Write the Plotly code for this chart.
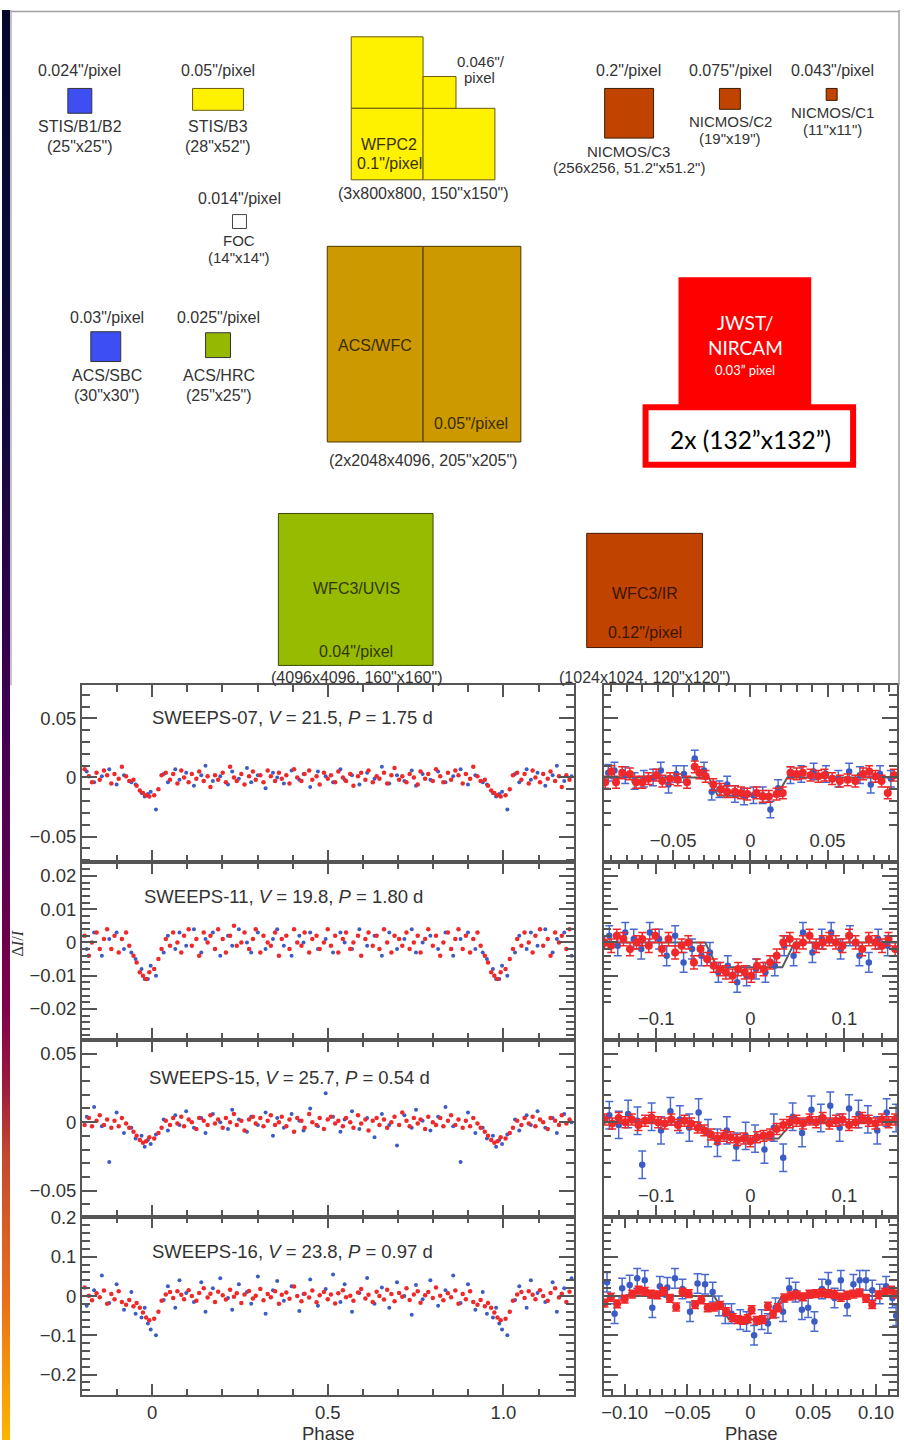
import plotly.graph_objects as go

# ---------------- DATA ----------------
RED_PHASE = [0.006, 0.018, 0.027, 0.039, 0.051, 0.060, 0.072, 0.083, 0.091, 0.104,
             0.113, 0.126, 0.134, 0.147, 0.158, 0.166, 0.179, 0.188, 0.201, 0.210,
             0.222, 0.233, 0.241, 0.254, 0.263, 0.276, 0.287, 0.295, 0.308, 0.317,
             0.329, 0.338, 0.350, 0.361, 0.369, 0.382, 0.391, 0.404, 0.413, 0.425,
             0.434, 0.447, 0.456, 0.468, 0.477, 0.489, 0.500, 0.509, 0.521, 0.530,
             0.543, 0.552, 0.564, 0.573, 0.586, 0.595, 0.607, 0.616, 0.628, 0.639,
             0.647, 0.660, 0.669, 0.681, 0.690, 0.703, 0.712, 0.724, 0.733, 0.745,
             0.756, 0.764, 0.777, 0.786, 0.799, 0.808, 0.820, 0.829, 0.842, 0.851,
             0.863, 0.872, 0.884, 0.893, 0.905, 0.914, 0.926, 0.935, 0.947, 0.956,
             0.965, 0.974, 0.983, 0.992]
BLUE_PHASE = [0.011, 0.033, 0.045, 0.066, 0.078, 0.097, 0.119, 0.140, 0.152, 0.173,
              0.194, 0.216, 0.228, 0.247, 0.270, 0.282, 0.301, 0.323, 0.344, 0.356,
              0.375, 0.397, 0.419, 0.431, 0.450, 0.472, 0.494, 0.515, 0.536, 0.548,
              0.569, 0.590, 0.612, 0.633, 0.654, 0.675, 0.697, 0.718, 0.739, 0.751,
              0.770, 0.792, 0.814, 0.835, 0.857, 0.878, 0.899, 0.920, 0.941, 0.953,
              0.970, 0.979, 0.988, 0.996]

P1_RED = [-0.015, -0.010, 0.002, 0.004, -0.002, 0.003, -0.005, 0.006, 0.000, -0.004,
          0.003, -0.001, 0.005, -0.003, 0.001, -0.008, 0.002, -0.002, 0.004, -0.004,
          0.009, 0.000, -0.003, 0.003, -0.006, 0.001, 0.005, -0.002, 0.002, -0.004,
          0.006, 0.001, -0.003, 0.004, -0.001, 0.002, -0.005, 0.007, 0.000, -0.003,
          0.003, 0.006, -0.002, 0.001, -0.006, 0.004, -0.001, 0.002, -0.004, 0.005,
          0.000, -0.003, 0.003, -0.007, 0.001, 0.004, -0.002, 0.006, -0.004, 0.001,
          -0.001, 0.004, -0.005, 0.002, 0.008, -0.002, 0.001, -0.004, 0.003, 0.000,
          -0.006, 0.005, -0.001, 0.003, -0.003, 0.007, 0.001, -0.004, 0.004, -0.002,
          0.006, 0.002, -0.005, 0.003, -0.001, 0.009, 0.001, -0.003, -0.002, -0.007,
          -0.011, -0.013, -0.015, -0.016]
P1_BLUE = [-0.027, 0.003, -0.004, 0.007, -0.002, 0.004, -0.007, 0.002, 0.010, -0.003,
           0.001, -0.006, 0.005, -0.001, 0.008, -0.004, 0.002, -0.009, 0.004, 0.000,
           -0.005, 0.006, -0.002, 0.003, -0.008, 0.005, 0.001, -0.004, 0.007, -0.002,
           0.002, -0.006, 0.004, -0.001, 0.009, -0.005, 0.002, -0.003, 0.006, -0.007,
           0.003, -0.002, 0.005, -0.004, 0.001, 0.007, -0.006, 0.002, -0.004, -0.006,
           -0.013, -0.016, -0.014, -0.012]

P2_RED = [-0.008, -0.005, -0.002, 0.001, -0.001, 0.003, 0.000, -0.003, 0.002, 0.004,
          -0.001, 0.001, -0.004, 0.003, 0.000, 0.002, -0.002, 0.004, 0.001, -0.003,
          0.002, 0.005, -0.001, 0.000, 0.003, -0.002, 0.001, 0.004, -0.003, 0.002,
          0.000, -0.001, 0.003, -0.004, 0.001, 0.002, -0.002, 0.004, 0.000, -0.001,
          0.003, -0.003, 0.001, 0.002, -0.002, 0.000, 0.004, -0.001, 0.002, -0.003,
          0.001, 0.003, -0.002, 0.000, 0.002, -0.004, 0.001, 0.003, -0.001, 0.002,
          -0.002, 0.004, 0.000, -0.003, 0.002, 0.001, -0.001, 0.003, -0.002, 0.000,
          0.002, -0.003, 0.001, 0.004, -0.001, 0.002, -0.004, 0.000, 0.003, -0.002,
          0.001, 0.004, -0.002, 0.002, -0.003, 0.001, 0.003, -0.001, -0.004, -0.006,
          -0.009, -0.010, -0.011, -0.009]
P2_BLUE = [-0.010, -0.003, 0.002, -0.002, 0.003, -0.001, 0.004, -0.003, 0.001, 0.003,
           -0.004, 0.002, -0.001, 0.004, 0.000, -0.003, 0.003, -0.002, 0.001, 0.004,
           -0.001, -0.004, 0.002, 0.000, 0.003, -0.002, 0.001, -0.003, 0.003, 0.000,
           -0.002, 0.004, -0.001, 0.002, -0.004, 0.003, -0.002, 0.001, 0.004, -0.003,
           0.000, 0.002, -0.002, 0.003, -0.004, 0.001, 0.003, -0.002, -0.003, -0.005,
           -0.008, -0.011, -0.011, -0.007]

P3_RED = [-0.012, -0.008, -0.004, 0.001, -0.002, 0.003, -0.001, 0.004, -0.003, 0.002,
          0.000, -0.005, 0.003, 0.001, -0.002, 0.005, -0.001, 0.002, -0.004, 0.003,
          0.000, 0.006, -0.002, 0.001, -0.006, 0.002, 0.004, -0.001, 0.003, -0.003,
          0.001, 0.005, -0.002, 0.000, 0.004, -0.003, 0.002, -0.007, 0.003, 0.001,
          -0.004, 0.006, 0.000, -0.002, 0.003, -0.005, 0.002, 0.004, -0.001, 0.001,
          -0.003, 0.003, 0.000, -0.004, 0.005, -0.001, 0.002, -0.006, 0.001, 0.003,
          -0.002, 0.002, -0.004, 0.000, 0.004, -0.002, 0.007, 0.001, -0.003, 0.003,
          -0.001, 0.002, -0.005, 0.004, 0.000, -0.002, 0.003, -0.003, 0.001, 0.005,
          -0.002, 0.002, -0.004, 0.001, -0.003, 0.003, -0.001, -0.004, -0.007, -0.010,
          -0.013, -0.015, -0.014, -0.011]
P3_BLUE = [-0.009, 0.002, -0.006, 0.005, -0.002, 0.008, -0.004, 0.003, -0.008, 0.006,
           0.000, -0.005, 0.009, 0.002, -0.007, 0.004, -0.002, 0.007, -0.010, 0.003,
           -0.004, 0.006, 0.001, -0.006, 0.010, -0.003, 0.021, 0.004, -0.007, 0.002,
           0.008, -0.005, 0.003, -0.011, 0.006, -0.002, -0.017, 0.005, -0.004, 0.009,
           0.001, -0.006, 0.004, 0.011, -0.003, -0.029, 0.007, -0.008, -0.004, -0.012,
           -0.010, -0.018, -0.013, -0.016]

P4_RED = [-0.058, -0.040, -0.012, 0.004, 0.010, -0.005, 0.012, 0.003, -0.008, 0.015,
          0.000, -0.012, 0.008, 0.020, -0.004, 0.006, -0.015, 0.011, 0.002, -0.009,
          0.016, -0.002, 0.007, -0.018, 0.004, 0.013, -0.006, 0.001, 0.018, -0.011,
          0.005, -0.003, 0.012, -0.020, 0.003, 0.009, -0.007, 0.024, 0.000, -0.013,
          0.006, -0.004, 0.014, -0.016, 0.002, 0.010, -0.008, 0.004, -0.019, 0.007,
          0.015, -0.003, 0.001, -0.012, 0.009, 0.018, -0.006, 0.003, -0.015, 0.011,
          0.000, -0.009, 0.016, 0.005, -0.013, 0.008, -0.002, 0.020, -0.010, 0.004,
          0.012, -0.017, 0.002, 0.010, -0.005, 0.022, 0.001, -0.011, 0.007, -0.003,
          0.014, -0.020, 0.005, -0.008, 0.012, -0.015, -0.022, -0.010, -0.026, -0.018,
          -0.030, -0.042, -0.055, -0.062]
P4_BLUE = [-0.100, -0.010, 0.025, -0.030, 0.040, 0.008, -0.015, 0.035, -0.040, 0.020,
           0.045, -0.005, -0.035, 0.030, 0.010, -0.020, 0.050, -0.045, 0.015, 0.038,
           -0.012, 0.025, -0.038, 0.005, 0.042, -0.025, 0.018, 0.055, -0.015, 0.030,
           -0.040, 0.008, 0.046, -0.020, 0.022, -0.030, 0.035, 0.000, -0.048, 0.028,
           -0.008, 0.040, -0.025, 0.015, 0.052, -0.018, 0.030, -0.035, 0.010, -0.045,
           -0.055, -0.030, -0.070, -0.085]

# zoomed transit panels (phase, flux), constant error per series
R1_RED_X = [-0.094, -0.090, -0.087, -0.083, -0.078, -0.074, -0.070, -0.066, -0.061, -0.057, -0.052, -0.047, -0.041, -0.036, -0.033, -0.029, -0.024, -0.019, -0.015, -0.010, -0.006, -0.002, 0.004, 0.008, 0.012, 0.017, 0.021, 0.026, 0.030, 0.034, 0.039, 0.044, 0.048, 0.053, 0.058, 0.063, 0.068, 0.073, 0.077, 0.081, 0.085, 0.089, 0.093]
R1_RED_Y = [-0.004, 0.005, -0.004, 0.004, 0.003, -0.004, -0.004, -0.001, 0.002, -0.003, -0.001, -0.002, -0.004, 0.009, 0.004, 0.001, -0.006, -0.010, -0.012, -0.012, -0.013, -0.014, -0.013, -0.016, -0.016, -0.014, -0.013, 0.004, 0.003, 0.004, 0.002, 0.001, 0.002, -0.001, -0.003, -0.002, -0.003, 0.003, 0.005, 0.001, -0.003, -0.013, 0.002]
R1_BLUE_X = [-0.092, -0.088, -0.081, -0.075, -0.069, -0.063, -0.058, -0.053, -0.048, -0.043, -0.036, -0.030, -0.025, -0.020, -0.015, -0.010, -0.004, 0.002, 0.008, 0.013, 0.018, 0.026, 0.033, 0.041, 0.049, 0.057, 0.064, 0.071, 0.078, 0.084, 0.091]
R1_BLUE_Y = [0.004, 0.006, 0.002, -0.003, -0.001, 0.000, 0.006, -0.006, 0.003, 0.003, 0.016, 0.006, -0.012, -0.010, -0.006, -0.014, -0.016, -0.015, -0.015, -0.027, -0.009, 0.002, 0.003, 0.005, 0.003, -0.001, 0.005, 0.002, -0.006, 0.003, -0.001]
R1_RED_ERR, R1_BLUE_ERR = 0.005, 0.007
R1_MODEL_X = [-0.095, -0.027, -0.021, 0.017, 0.024, 0.095]
R1_MODEL_Y = [0.0, 0.0, -0.0155, -0.0155, 0.0, 0.0]

R2_RED_X = [-0.155, -0.148, -0.142, -0.135, -0.128, -0.121, -0.115, -0.108, -0.101, -0.094, -0.087, -0.080, -0.073, -0.066, -0.060, -0.053, -0.046, -0.039, -0.032, -0.026, -0.019, -0.013, -0.006, 0.001, 0.007, 0.014, 0.021, 0.028, 0.035, 0.042, 0.049, 0.056, 0.063, 0.070, 0.077, 0.084, 0.091, 0.098, 0.105, 0.112, 0.119, 0.126, 0.133, 0.140, 0.147, 0.154]
R2_RED_Y = [0.000, -0.001, 0.002, 0.001, -0.002, 0.000, 0.001, -0.001, 0.002, -0.002, 0.001, -0.003, -0.001, 0.000, -0.006, -0.002, -0.005, -0.007, -0.008, -0.009, -0.010, -0.008, -0.009, -0.010, -0.007, -0.008, -0.006, -0.004, 0.000, 0.001, -0.001, 0.000, 0.002, -0.001, 0.000, 0.001, 0.000, -0.001, 0.002, 0.000, -0.002, 0.001, 0.000, -0.001, 0.001, -0.002]
R2_BLUE_X = [-0.150, -0.141, -0.133, -0.124, -0.116, -0.107, -0.097, -0.089, -0.080, -0.071, -0.062, -0.052, -0.043, -0.034, -0.024, -0.014, -0.004, 0.006, 0.016, 0.026, 0.036, 0.046, 0.056, 0.066, 0.076, 0.086, 0.096, 0.106, 0.116, 0.126, 0.136, 0.146]
R2_BLUE_Y = [0.002, -0.001, 0.003, 0.001, -0.002, 0.003, 0.001, -0.004, 0.002, -0.006, -0.002, -0.004, -0.003, -0.009, -0.007, -0.012, -0.010, -0.008, -0.009, -0.007, -0.001, -0.004, 0.003, -0.003, 0.001, 0.003, -0.002, 0.002, -0.004, -0.006, 0.001, -0.001]
R2_RED_ERR, R2_BLUE_ERR = 0.002, 0.003
R2_MODEL_X = [-0.156, -0.048, -0.035, 0.034, 0.047, 0.156]
R2_MODEL_Y = [0.0, 0.0, -0.0075, -0.0075, 0.0, 0.0]

R3_RED_X = [-0.155, -0.147, -0.140, -0.133, -0.126, -0.119, -0.112, -0.105, -0.098, -0.091, -0.084, -0.077, -0.070, -0.063, -0.056, -0.049, -0.042, -0.035, -0.028, -0.021, -0.014, -0.007, 0.000, 0.007, 0.014, 0.021, 0.028, 0.035, 0.042, 0.049, 0.056, 0.063, 0.070, 0.077, 0.084, 0.091, 0.098, 0.105, 0.112, 0.119, 0.126, 0.133, 0.140, 0.147, 0.154]
R3_RED_Y = [0.002, -0.001, 0.003, 0.000, 0.002, -0.002, 0.001, 0.003, 0.000, -0.001, 0.002, -0.002, 0.001, -0.001, -0.004, -0.006, -0.009, -0.012, -0.010, -0.011, -0.013, -0.012, -0.014, -0.011, -0.010, -0.009, -0.005, -0.002, 0.000, 0.001, -0.001, 0.002, 0.000, 0.003, -0.001, 0.001, 0.002, -0.002, 0.000, 0.003, 0.001, -0.001, 0.002, 0.000, 0.002]
R3_BLUE_X = [-0.150, -0.140, -0.130, -0.120, -0.115, -0.105, -0.095, -0.085, -0.075, -0.065, -0.055, -0.045, -0.035, -0.025, -0.015, -0.005, 0.005, 0.015, 0.025, 0.035, 0.045, 0.055, 0.065, 0.075, 0.085, 0.095, 0.105, 0.115, 0.125, 0.135, 0.145, 0.155]
R3_BLUE_Y = [0.005, -0.002, 0.006, 0.001, -0.031, 0.004, -0.006, 0.008, 0.002, -0.004, 0.007, -0.008, -0.015, -0.006, -0.018, -0.010, -0.012, -0.020, -0.004, -0.026, 0.004, -0.008, 0.009, 0.003, 0.012, -0.004, 0.010, 0.006, 0.002, -0.006, 0.007, 0.003]
R3_RED_ERR, R3_BLUE_ERR = 0.004, 0.010
R3_MODEL_X = [-0.156, -0.055, -0.040, 0.030, 0.045, 0.156]
R3_MODEL_Y = [0.0, 0.0, -0.012, -0.012, 0.0, 0.0]

R4_RED_X = [-0.116, -0.111, -0.106, -0.100, -0.094, -0.089, -0.084, -0.079, -0.074, -0.069, -0.064, -0.059, -0.054, -0.049, -0.044, -0.039, -0.034, -0.029, -0.024, -0.019, -0.014, -0.010, -0.006, -0.002, 0.001, 0.005, 0.010, 0.014, 0.018, 0.022, 0.027, 0.032, 0.037, 0.042, 0.047, 0.052, 0.057, 0.062, 0.067, 0.072, 0.077, 0.082, 0.087, 0.092, 0.097, 0.102, 0.107, 0.112, 0.116]
R4_RED_Y = [-0.018, -0.003, -0.020, -0.008, 0.005, 0.015, 0.012, 0.005, 0.003, 0.012, -0.006, -0.028, 0.010, 0.006, -0.022, -0.010, -0.030, -0.028, -0.024, -0.040, -0.055, -0.060, -0.062, -0.058, -0.035, -0.062, -0.060, -0.026, -0.046, -0.030, -0.005, 0.000, 0.003, -0.002, 0.005, 0.006, 0.008, 0.006, 0.004, -0.003, 0.002, 0.005, 0.008, -0.006, -0.022, 0.003, 0.010, 0.015, 0.005]
R4_BLUE_X = [-0.114, -0.108, -0.102, -0.096, -0.090, -0.084, -0.078, -0.072, -0.066, -0.060, -0.054, -0.048, -0.042, -0.036, -0.030, -0.025, -0.020, -0.015, -0.008, -0.003, 0.003, 0.009, 0.014, 0.020, 0.026, 0.031, 0.036, 0.041, 0.046, 0.051, 0.057, 0.062, 0.067, 0.072, 0.077, 0.082, 0.087, 0.092, 0.097, 0.103, 0.108, 0.113, 0.116]
R4_BLUE_Y = [0.035, -0.045, 0.020, 0.028, 0.045, 0.040, -0.030, 0.025, 0.022, 0.045, 0.018, -0.040, 0.032, 0.030, 0.010, -0.025, -0.045, -0.045, -0.060, -0.065, -0.100, -0.060, -0.070, -0.030, -0.040, 0.020, 0.010, -0.035, -0.030, -0.065, 0.018, 0.035, -0.005, 0.040, -0.025, 0.030, 0.040, 0.040, 0.015, 0.005, 0.025, -0.005, -0.050]
R4_RED_ERR, R4_BLUE_ERR = 0.010, 0.025
R4_MODEL_X = [-0.117, -0.029, -0.017, 0.015, 0.025, 0.117]
R4_MODEL_Y = [0.0, 0.0, -0.060, -0.060, 0.0, 0.0]

PANEL_LABELS = ["SWEEPS-07, <i>V</i> = 21.5, <i>P</i> = 1.75 d",
                "SWEEPS-11, <i>V</i> = 19.8, <i>P</i> = 1.80 d",
                "SWEEPS-15, <i>V</i> = 25.7, <i>P</i> = 0.54 d",
                "SWEEPS-16, <i>V</i> = 23.8, <i>P</i> = 0.97 d"]

# ---------------- LAYOUT HELPERS ----------------
W, H = 904, 1440
SANS = "Liberation Sans, Arial, Helvetica, sans-serif"
TXT = "#333333"
AX = "#555555"
RED = "#f0282a"
BLUE = "#3b5cc4"
DFS = 16  # diagram font size


def px(x):
    return x / W


def py(y):
    return 1 - y / H


fig = go.Figure()


def fold(ph, fl):
    xs, ys = [], []
    for p, f in zip(ph, fl):
        xs.append(p); ys.append(f)
        if p >= 0.8:
            xs.append(p - 1); ys.append(f)
        if p <= 0.2:
            xs.append(p + 1); ys.append(f)
    return xs, ys


LEFT = [(P1_RED, P1_BLUE), (P2_RED, P2_BLUE), (P3_RED, P3_BLUE), (P4_RED, P4_BLUE)]
RIGHT = [
    (R1_RED_X, R1_RED_Y, R1_RED_ERR, R1_BLUE_X, R1_BLUE_Y, R1_BLUE_ERR, R1_MODEL_X, R1_MODEL_Y),
    (R2_RED_X, R2_RED_Y, R2_RED_ERR, R2_BLUE_X, R2_BLUE_Y, R2_BLUE_ERR, R2_MODEL_X, R2_MODEL_Y),
    (R3_RED_X, R3_RED_Y, R3_RED_ERR, R3_BLUE_X, R3_BLUE_Y, R3_BLUE_ERR, R3_MODEL_X, R3_MODEL_Y),
    (R4_RED_X, R4_RED_Y, R4_RED_ERR, R4_BLUE_X, R4_BLUE_Y, R4_BLUE_ERR, R4_MODEL_X, R4_MODEL_Y),
]

ROWS_PX = [(680, 858), (858, 1037), (1037, 1215), (1215, 1395)]
Y_RANGES = [[-0.0715, 0.078], [-0.0293, 0.0242], [-0.0688, 0.060], [-0.253, 0.2025]]
Y_TICKS = [[-0.05, 0, 0.05], [-0.02, -0.01, 0, 0.01, 0.02], [-0.05, 0, 0.05], [-0.2, -0.1, 0, 0.1, 0.2]]
Y_MINOR = [0.01, 0.002, 0.01, 0.02]
RX_RANGES = [[-0.095, 0.095], [-0.156, 0.156], [-0.156, 0.156], [-0.1167, 0.1167]]
RX_TICKS = [[-0.05, 0, 0.05], [-0.1, 0, 0.1], [-0.1, 0, 0.1], [-0.10, -0.05, 0, 0.05, 0.10]]
RX_TEXT = [["−0.05", "0", "0.05"], ["−0.1", "0", "0.1"], ["−0.1", "0", "0.1"], ["−0.10", "−0.05", "0", "0.05", "0.10"]]
RX_MINOR = [0.01, 0.02, 0.02, 0.01]

base = dict(showline=True, linecolor=AX, linewidth=1.5, mirror="allticks", ticks="inside",
            tickcolor=AX, tickwidth=1.5, showgrid=False, zeroline=False,
            tickfont=dict(family=SANS, size=18.5, color=TXT))

for i in range(4):
    li, ri = 2 * i + 1, 2 * i + 2
    lx = "x" if li == 1 else f"x{li}"
    ly = "y" if li == 1 else f"y{li}"
    rx, ry = f"x{ri}", f"y{ri}"
    top, bot = ROWS_PX[i]
    ydom = [py(bot), py(top)]

    red, blue = LEFT[i]
    bx, by = fold(BLUE_PHASE, blue)
    rxs, rys = fold(RED_PHASE, red)
    fig.add_trace(go.Scatter(x=bx, y=by, mode="markers", xaxis=lx, yaxis=ly,
                             marker=dict(color=BLUE, size=4), showlegend=False, cliponaxis=True))
    fig.add_trace(go.Scatter(x=rxs, y=rys, mode="markers", xaxis=lx, yaxis=ly,
                             marker=dict(color=RED, size=4.5), showlegend=False, cliponaxis=True))

    rrx, rry, rerr, rbx, rby, berr, mx, my = RIGHT[i]
    fig.add_trace(go.Scatter(x=mx, y=my, mode="lines", xaxis=rx, yaxis=ry,
                             line=dict(color="#5a5a5a", width=2), showlegend=False))
    fig.add_trace(go.Scatter(x=rbx, y=rby, mode="markers", xaxis=rx, yaxis=ry,
                             marker=dict(color=BLUE, size=6.5),
                             error_y=dict(type="constant", value=berr, color="#4a6ad0", thickness=1.5, width=4),
                             showlegend=False))
    fig.add_trace(go.Scatter(x=rrx, y=rry, mode="markers", xaxis=rx, yaxis=ry,
                             marker=dict(color=RED, size=8),
                             error_y=dict(type="constant", value=rerr, color=RED, thickness=1.5, width=4),
                             showlegend=False))

    lxa = dict(base, domain=[px(80), px(573)], range=[-0.2, 1.2], anchor=ly,
               tickmode="array", tickvals=[0, 0.5, 1.0], ticktext=["0", "0.5", "1.0"], ticklen=12,
               showticklabels=(i == 3),
               minor=dict(tickmode="linear", tick0=0, dtick=0.1, ticklen=7, ticks="inside",
                          tickcolor=AX, tickwidth=1.5))
    lya = dict(base, domain=ydom, range=Y_RANGES[i], anchor=lx, tickmode="array",
               tickvals=Y_TICKS[i], ticklen=15,
               minor=dict(tickmode="linear", tick0=0, dtick=Y_MINOR[i], ticklen=8, ticks="inside",
                          tickcolor=AX, tickwidth=1.5))
    rxa = dict(base, domain=[px(603), px(897)], range=RX_RANGES[i], anchor=ry,
               tickmode="array", tickvals=RX_TICKS[i], ticktext=RX_TEXT[i], ticklen=12,
               ticklabelposition=("outside" if i == 3 else "inside"),
               minor=dict(tickmode="linear", tick0=0, dtick=RX_MINOR[i], ticklen=7, ticks="inside",
                          tickcolor=AX, tickwidth=1.5))
    rya = dict(base, domain=ydom, range=Y_RANGES[i], anchor=rx, tickmode="array",
               tickvals=Y_TICKS[i], ticklen=15, showticklabels=False,
               minor=dict(tickmode="linear", tick0=0, dtick=Y_MINOR[i], ticklen=8, ticks="inside",
                          tickcolor=AX, tickwidth=1.5))
    fig.layout["xaxis" if li == 1 else f"xaxis{li}"] = lxa
    fig.layout["yaxis" if li == 1 else f"yaxis{li}"] = lya
    fig.layout[f"xaxis{ri}"] = rxa
    fig.layout[f"yaxis{ri}"] = rya

# ---- left gradient strip ----
STRIP_Y = [0, 250, 450, 680, 870, 1000, 1080, 1150, 1210, 1300, 1380, 1440]
STRIP_C = ["#07072c", "#0a0a36", "#160840", "#3a0050", "#5c0050", "#80004a",
           "#9a1a40", "#c04830", "#d25a26", "#e8701a", "#f59a08", "#fbb600"]
fig.add_trace(go.Heatmap(x=[0, 1], y=STRIP_Y, z=[[v, v] for v in STRIP_Y], zmin=0, zmax=1440,
                         colorscale=[[v / 1440, c] for v, c in zip(STRIP_Y, STRIP_C)],
                         zsmooth="best", showscale=False, xaxis="x9", yaxis="y9", hoverinfo="skip"))
fig.layout["xaxis9"] = dict(domain=[0, px(8)], range=[-0.5, 1.5], visible=False)
fig.layout["yaxis9"] = dict(domain=[0, 1], range=[1440, 0], visible=False, anchor="x9")


# ---------------- DIAGRAM ----------------
def rect(x0, y0, x1, y1, fill, line, lw=1.0):
    fig.add_shape(type="rect", xref="paper", yref="paper", x0=px(x0), x1=px(x1),
                  y0=py(y1), y1=py(y0), fillcolor=fill, line=dict(color=line, width=lw))


def hline(x0, x1, y, color, w):
    fig.add_shape(type="line", xref="paper", yref="paper", x0=px(x0), x1=px(x1), y0=py(y), y1=py(y),
                  line=dict(color=color, width=w))


def vline(x, y0, y1, color, w):
    fig.add_shape(type="line", xref="paper", yref="paper", x0=px(x), x1=px(x), y0=py(y0), y1=py(y1),
                  line=dict(color=color, width=w))


def txt(s, x, y, size=DFS, color=TXT, family=SANS, **kw):
    fig.add_annotation(text=s, x=px(x), y=py(y), xref="paper", yref="paper", showarrow=False,
                       xanchor="center", yanchor="middle", borderpad=0,
                       font=dict(size=size, color=color, family=family), **kw)


hline(8.5, 899, 1.5, "#a0a0a0", 1.5)
vline(899, 0, 680, "#a0a0a0", 1.5)
vline(9, 0, 680, "#b0b0b0", 1.5)

YEL, YEL_L = "#fff200", "#6b5a10"
rect(66, 79, 90, 104, "#3d4ef2", "#333333")
rect(191, 79, 242, 101, YEL, YEL_L)
rect(231, 206, 245, 220, "#ffffff", "#444444")
rect(89, 324, 119, 354, "#3d4ef2", "#333333")
rect(204, 325, 229, 350, "#95b800", "#333333")
rect(350, 27, 422, 99, YEL, YEL_L)
rect(350, 99, 422, 171, YEL, YEL_L)
rect(422, 99, 494, 171, YEL, YEL_L)
rect(422, 67, 455, 99, YEL, YEL_L)
rect(326, 238, 422, 435, "#cc9900", "#4a3800")
rect(422, 238, 520, 435, "#cc9900", "#4a3800")
rect(604, 79, 653, 129, "#c04400", "#3a1a00")
rect(719, 79, 740, 100, "#c04400", "#3a1a00")
rect(826, 79, 837, 91, "#c04400", "#3a1a00")
rect(277, 507, 432, 660, "#97bb00", "#3a4a00")
rect(586, 527, 702, 642, "#c04400", "#4a1a00")
rect(678, 269, 811, 400, "#fe0000", "#fe0000", 0)
rect(645, 400, 853, 458, "#ffffff", "#fe0000", 6)

SFS = 15  # tightly stacked lines
txt('0.024"/pixel', 78, 61); txt("STIS/B1/B2", 78, 117); txt('(25"x25")', 78, 137)
txt('0.05"/pixel', 216, 61); txt("STIS/B3", 216, 117); txt('(28"x52")', 216, 137)
txt('0.014"/pixel', 238, 190); txt("FOC", 238, 232, size=SFS); txt('(14"x14")', 238, 249, size=SFS)
txt('0.03"/pixel', 105, 310); txt("ACS/SBC", 105, 368); txt('(30"x30")', 105, 388)
txt('0.025"/pixel', 217, 310); txt("ACS/HRC", 217, 368); txt('(25"x25")', 217, 388)
txt('0.046"/', 480, 52, size=SFS); txt("pixel", 479, 68, size=SFS)
txt("WFPC2", 388, 135, color="#3a3000"); txt('0.1"/pixel', 388, 155, color="#3a3000")
txt('(3x800x800, 150"x150")', 422, 185)
txt('0.2"/pixel', 628, 61); txt("NICMOS/C3", 628, 142, size=SFS); txt('(256x256, 51.2"x51.2")', 628, 159, size=SFS)
txt('0.075"/pixel', 730, 61); txt("NICMOS/C2", 730, 112, size=SFS); txt('(19"x19")', 730, 129, size=SFS)
txt('0.043"/pixel', 832, 61); txt("NICMOS/C1", 832, 103, size=SFS); txt('(11"x11")', 832, 120, size=SFS)
txt("ACS/WFC", 374, 338, color="#3a2c00"); txt('0.05"/pixel', 470, 416, color="#3a2c00")
txt('(2x2048x4096, 205"x205")', 422, 454)
txt("WFC3/UVIS", 355, 583, color="#2e3800"); txt('0.04"/pixel', 355, 646, color="#2e3800")
txt('(4096x4096, 160"x160")', 355, 672)
txt("WFC3/IR", 644, 588, color="#3a1400"); txt('0.12"/pixel', 644, 627, color="#3a1400")
txt('(1024x1024, 120"x120")', 644, 672)
LATO = "Lato, Open Sans, sans-serif"
txt("JWST/", 745, 315, size=19, color="#ffffff", family=LATO)
txt("NIRCAM", 745, 340, size=19, color="#ffffff", family=LATO)
txt("0.03” pixel", 745, 363, size=13, color="#ffffff", family=LATO)
txt("2x (132”x132”)", 750, 432, size=24.5, color="#000000", family=LATO)

# panel labels / axis labels
LABEL_POS = [(291, 712), (282, 893), (288, 1075), (291, 1250)]
for s, (x, y) in zip(PANEL_LABELS, LABEL_POS):
    txt(s, x, y, size=18.5)
txt("Phase", 327, 1433, size=18.5)
txt("Phase", 751, 1433, size=18.5)
txt("Δ<i>I</i>/<i>I</i>", 16, 940, size=16, family="Liberation Serif, Times New Roman, serif", textangle=-90)

fig.update_layout(width=W, height=H, margin=dict(l=0, r=0, t=0, b=0),
                  paper_bgcolor="white", plot_bgcolor="white", showlegend=False)
fig.write_html("out.html")
